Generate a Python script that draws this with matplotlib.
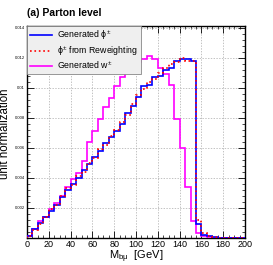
import numpy as np
import matplotlib
matplotlib.use("Agg")
import matplotlib.pyplot as plt
from matplotlib.ticker import MultipleLocator

plt.rcParams["font.family"] = ["Liberation Sans", "DejaVu Sans"]
plt.rcParams["mathtext.fontset"] = "custom"
plt.rcParams["mathtext.rm"] = "Liberation Sans"
plt.rcParams["mathtext.it"] = "Liberation Sans"

# Bin edges for M_bmu (GeV), 5 GeV bins
bin_edges = np.arange(0, 205, 5)

# Generated phi+-
gen_phi = [0.0001, 0.0006, 0.0010, 0.0014, 0.0018, 0.0022, 0.0027, 0.0032, 0.0036, 0.0040,
           0.0045, 0.0049, 0.0054, 0.0058, 0.0063, 0.0067, 0.0071, 0.0076, 0.0083, 0.0088,
           0.0094, 0.0101, 0.0102, 0.0107, 0.0108, 0.0112, 0.0113, 0.0118, 0.0119, 0.0119,
           0.0118, 0.0009, 0.0002, 0.0001, 0.00005, 0.00003, 0.00002, 0.00002, 0.00002, 0.00001]

# phi+- from reweighting
rew_phi = [0.0001, 0.0005, 0.0009, 0.0014, 0.0019, 0.0022, 0.0028, 0.0033, 0.0035, 0.0041,
           0.0044, 0.0050, 0.0053, 0.0059, 0.0062, 0.0068, 0.0072, 0.0077, 0.0082, 0.0089,
           0.0095, 0.0099, 0.0104, 0.0106, 0.0110, 0.0113, 0.0116, 0.0117, 0.0120, 0.0118,
           0.0118, 0.0012, 0.00035, 0.00015, 0.00005, 0.00003, 0.00002, 0.00002, 0.00002, 0.00001]

# Generated w+-
gen_w = [0.0001, 0.0006, 0.0011, 0.0014, 0.0019, 0.0023, 0.0028, 0.0034, 0.0039, 0.0043,
         0.0051, 0.0064, 0.0071, 0.0079, 0.0087, 0.0093, 0.0101, 0.0107, 0.0111, 0.0114,
         0.0117, 0.0119, 0.0121, 0.0119, 0.0113, 0.0109, 0.0102, 0.0079, 0.0060, 0.0034,
         0.0011, 0.0003, 0.0001, 0.00005, 0.00003, 0.00002, 0.00001, 0.00001, 0.00001, 0.00001]

fig = plt.figure(figsize=(2.73, 2.65), dpi=100)
ax = fig.add_axes([27 / 273, 1 - 238 / 265, 218 / 273, 212 / 265])

ax.stairs(gen_w, bin_edges, color="#ff00ff", linewidth=1.2, label=r"Generated w$^{\pm}$", zorder=3)
ax.stairs(gen_phi, bin_edges, color="#0000ff", linewidth=1.2, label=r"Generated $\phi^{\pm}$", zorder=4)
ax.stairs(rew_phi, bin_edges, color="#ff0000", linewidth=1.2, linestyle=":",
          label=r"$\phi^{\pm}$ from Reweighting", zorder=5)

ax.set_xlim(0, 200)
ax.set_ylim(0, 0.0141)

ax.xaxis.set_major_locator(MultipleLocator(20))
ax.xaxis.set_minor_locator(MultipleLocator(5))
ax.yaxis.set_minor_locator(MultipleLocator(0.0004))
ax.tick_params(which="both", direction="in", top=True, right=True)
ax.tick_params(which="major", length=5, width=0.6)
ax.tick_params(which="minor", length=2.5, width=0.5)
ax.tick_params(axis="x", labelsize=6.5, pad=1.5)
ax.tick_params(axis="y", labelsize=3, pad=1.5)
ax.set_yticks([0.002, 0.004, 0.006, 0.008, 0.01, 0.012, 0.014])
ax.set_yticklabels(["0.002", "0.004", "0.006", "0.008", "0.01", "0.012", "0.014"])

ax.grid(True, which="major", linestyle=(0, (2, 2)), color="#aaaaaa", linewidth=0.5)
for s in ax.spines.values():
    s.set_linewidth(1.0)

ax.set_ylabel("unit normalization", fontsize=8.3)
ax.yaxis.set_label_coords(-0.073, 0.49)
ax.set_xlabel(r"M$_{\rm b\mu}$  [GeV]", fontsize=8)
ax.xaxis.set_label_coords(0.5, -0.05)
ax.xaxis.label.set_va("top")

fig.text(27 / 273, 1 - 13 / 265, "(a) Parton level", fontsize=7.5, fontweight="bold", va="center")

handles, labels = ax.get_legend_handles_labels()
order = [1, 2, 0]
leg = ax.legend([handles[i] for i in order], [labels[i] for i in order],
                loc="upper left", bbox_to_anchor=(0, 1), borderaxespad=0,
                fontsize=6.3, fancybox=False, framealpha=1, facecolor="#efefef",
                edgecolor="#888888", handlelength=2.6, handletextpad=0.5,
                borderpad=0.3, labelspacing=0.2)
leg.get_frame().set_linewidth(0.6)

fig.savefig("out.png", dpi=100)
